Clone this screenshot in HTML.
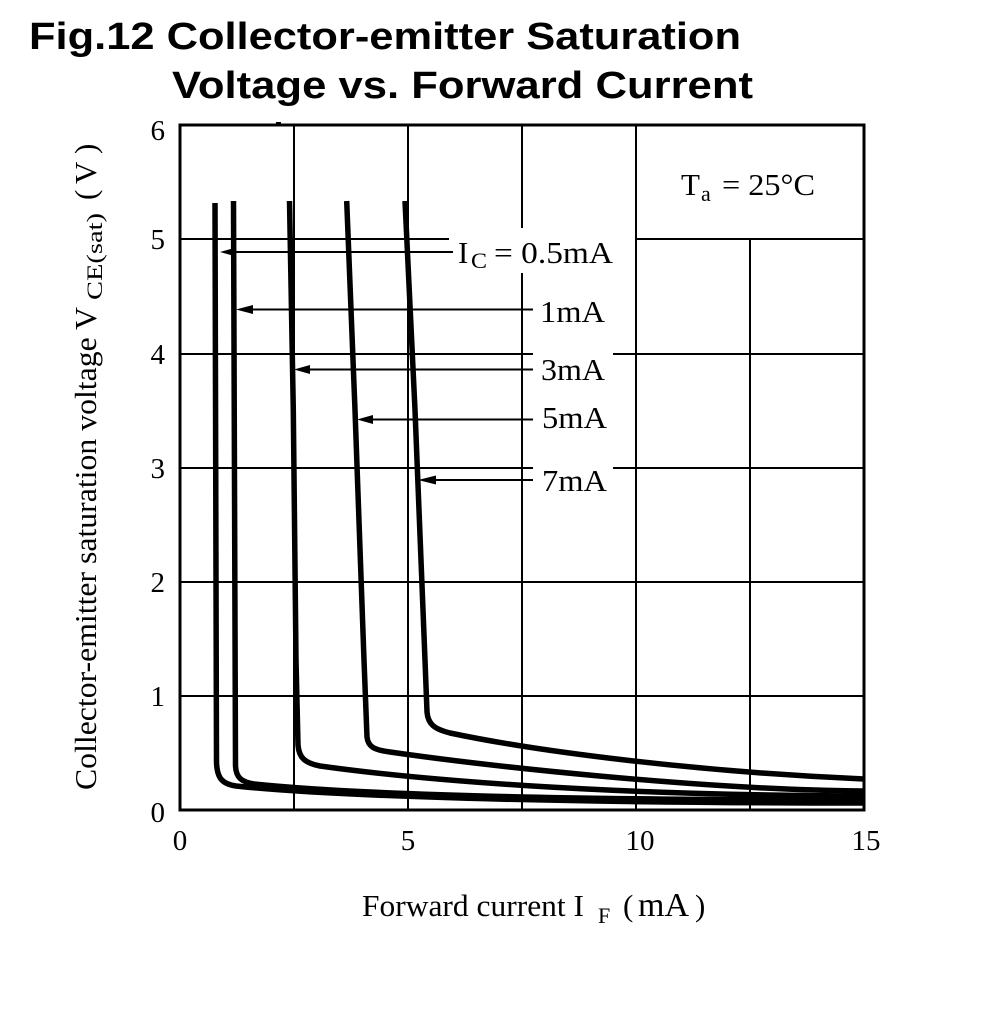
<!DOCTYPE html>
<html>
<head>
<meta charset="utf-8">
<style>
  html, body { margin: 0; padding: 0; background: #fff; }
  body { width: 983px; height: 1024px; overflow: hidden; }
  svg { display: block; }
  .t { font-family: "Liberation Serif", "DejaVu Serif", serif; fill: #000; }
  .h { font-family: "Liberation Sans", Arial, sans-serif; font-weight: bold; fill: #000; }
</style>
</head>
<body>
<svg width="983" height="1024" viewBox="0 0 983 1024" xmlns="http://www.w3.org/2000/svg">
  <rect x="0" y="0" width="983" height="1024" fill="#fff"/>

  <!-- Title -->
  <text class="h" x="29" y="49" font-size="38" textLength="712" lengthAdjust="spacingAndGlyphs">Fig.12 Collector-emitter Saturation</text>
  <text class="h" x="172" y="98" font-size="38" textLength="581" lengthAdjust="spacingAndGlyphs">Voltage vs. Forward Current</text>

  <!-- Grid lines -->
  <g stroke="#000" stroke-width="2" fill="none">
    <line x1="294" y1="125" x2="294" y2="810"/>
    <line x1="408" y1="125" x2="408" y2="810"/>
    <line x1="522" y1="125" x2="522" y2="228"/>
    <line x1="522" y1="273" x2="522" y2="810"/>
    <line x1="636" y1="125" x2="636" y2="810"/>
    <line x1="750" y1="239" x2="750" y2="810"/>
    <line x1="180" y1="239" x2="449" y2="239"/>
    <line x1="636" y1="239" x2="864" y2="239"/>
    <line x1="180" y1="354" x2="533" y2="354"/>
    <line x1="613" y1="354" x2="864" y2="354"/>
    <line x1="180" y1="468" x2="533" y2="468"/>
    <line x1="613" y1="468" x2="864" y2="468"/>
    <line x1="180" y1="582" x2="864" y2="582"/>
    <line x1="180" y1="696" x2="864" y2="696"/>
  </g>

  <rect x="276" y="122" width="5" height="4" fill="#000"/>

  <!-- Curves -->
  <g stroke="#000" stroke-width="5.5" fill="none" stroke-linejoin="round" stroke-linecap="butt">
    <path d="M215,203 L216.5,762 C217,778 222,784 236,786 C 330,796 550,803 864,803"/>
    <path d="M233.5,201 L235.5,766 C236,778 242,782 254,784 C 350,794 550,800 864,800"/>
    <path d="M289.5,201 L293.3,410 L296,660 L298,745 C299,758 305,763 320,766 C 420,780 600,795 864,796"/>
    <path d="M346.7,201 L355,410 L364,660 L367,737 C368,746 373,750 390,752 C 480,765 700,790 864,791"/>
    <path d="M405,201 L415,410 L425,660 L427,712 C428,724 434,729 450,733 C 540,752 700,772 864,779"/>
  </g>

  <!-- Plot border -->
  <rect x="180" y="125" width="684" height="685" fill="none" stroke="#000" stroke-width="3"/>

  <!-- Arrows -->
  <g stroke="#000" stroke-width="2" fill="none">
    <line x1="232" y1="252" x2="453" y2="252"/>
    <line x1="248" y1="309.5" x2="533" y2="309.5"/>
    <line x1="306" y1="369.5" x2="533" y2="369.5"/>
    <line x1="370" y1="419.5" x2="533" y2="419.5"/>
    <line x1="432" y1="480" x2="533" y2="480"/>
  </g>
  <g fill="#000">
    <polygon points="220,252 236,247.5 236,256.5"/>
    <polygon points="236,309.5 253,305 253,314"/>
    <polygon points="294,369.5 310,365 310,374"/>
    <polygon points="357,419.5 373,415 373,424"/>
    <polygon points="418,480 436,475.5 436,484.5"/>
  </g>

  <!-- Curve labels -->
  <text class="t" x="458" y="263" font-size="31">I</text>
  <text class="t" x="471" y="268" font-size="22" textLength="16" lengthAdjust="spacingAndGlyphs">C</text>
  <text class="t" x="494" y="263" font-size="31" textLength="119" lengthAdjust="spacingAndGlyphs">= 0.5mA</text>
  <text class="t" x="540" y="322" font-size="31" textLength="65" lengthAdjust="spacingAndGlyphs">1mA</text>
  <text class="t" x="541" y="380" font-size="31" textLength="64" lengthAdjust="spacingAndGlyphs">3mA</text>
  <text class="t" x="542" y="428" font-size="31" textLength="65" lengthAdjust="spacingAndGlyphs">5mA</text>
  <text class="t" x="542" y="491" font-size="31" textLength="65" lengthAdjust="spacingAndGlyphs">7mA</text>

  <!-- Ta label -->
  <text class="t" x="681" y="195" font-size="31">T</text>
  <text class="t" x="701" y="201" font-size="22">a</text>
  <text class="t" x="722" y="195" font-size="31" textLength="93" lengthAdjust="spacingAndGlyphs">= 25°C</text>

  <!-- Y tick labels -->
  <g class="t" font-size="29" text-anchor="end">
    <text x="165" y="140">6</text>
    <text x="165" y="249">5</text>
    <text x="165" y="364">4</text>
    <text x="165" y="478">3</text>
    <text x="165" y="592">2</text>
    <text x="165" y="706">1</text>
    <text x="165" y="822">0</text>
  </g>

  <!-- X tick labels -->
  <g class="t" font-size="29" text-anchor="middle">
    <text x="180" y="850">0</text>
    <text x="408" y="850">5</text>
    <text x="640" y="850">10</text>
    <text x="866" y="850">15</text>
  </g>

  <!-- X axis title -->
  <text class="t" x="362" y="916" font-size="31" textLength="222" lengthAdjust="spacingAndGlyphs">Forward current I</text>
  <text class="t" x="598" y="923" font-size="22">F</text>
  <text class="t" x="623" y="916" font-size="31">(</text>
  <text class="t" x="638" y="916" font-size="34">mA</text>
  <text class="t" x="695" y="916" font-size="31">)</text>

  <!-- Y axis title -->
  <g transform="translate(96,790) rotate(-90)">
    <text class="t" x="0" y="0" font-size="31" textLength="483" lengthAdjust="spacingAndGlyphs">Collector-emitter saturation voltage V</text>
    <text class="t" x="490" y="6" font-size="22" textLength="87" lengthAdjust="spacingAndGlyphs">CE(sat)</text>
    <text class="t" x="590" y="0" font-size="31">(</text>
    <text class="t" x="606" y="0" font-size="31">V</text>
    <text class="t" x="636" y="0" font-size="31">)</text>
  </g>
</svg>
</body>
</html>
